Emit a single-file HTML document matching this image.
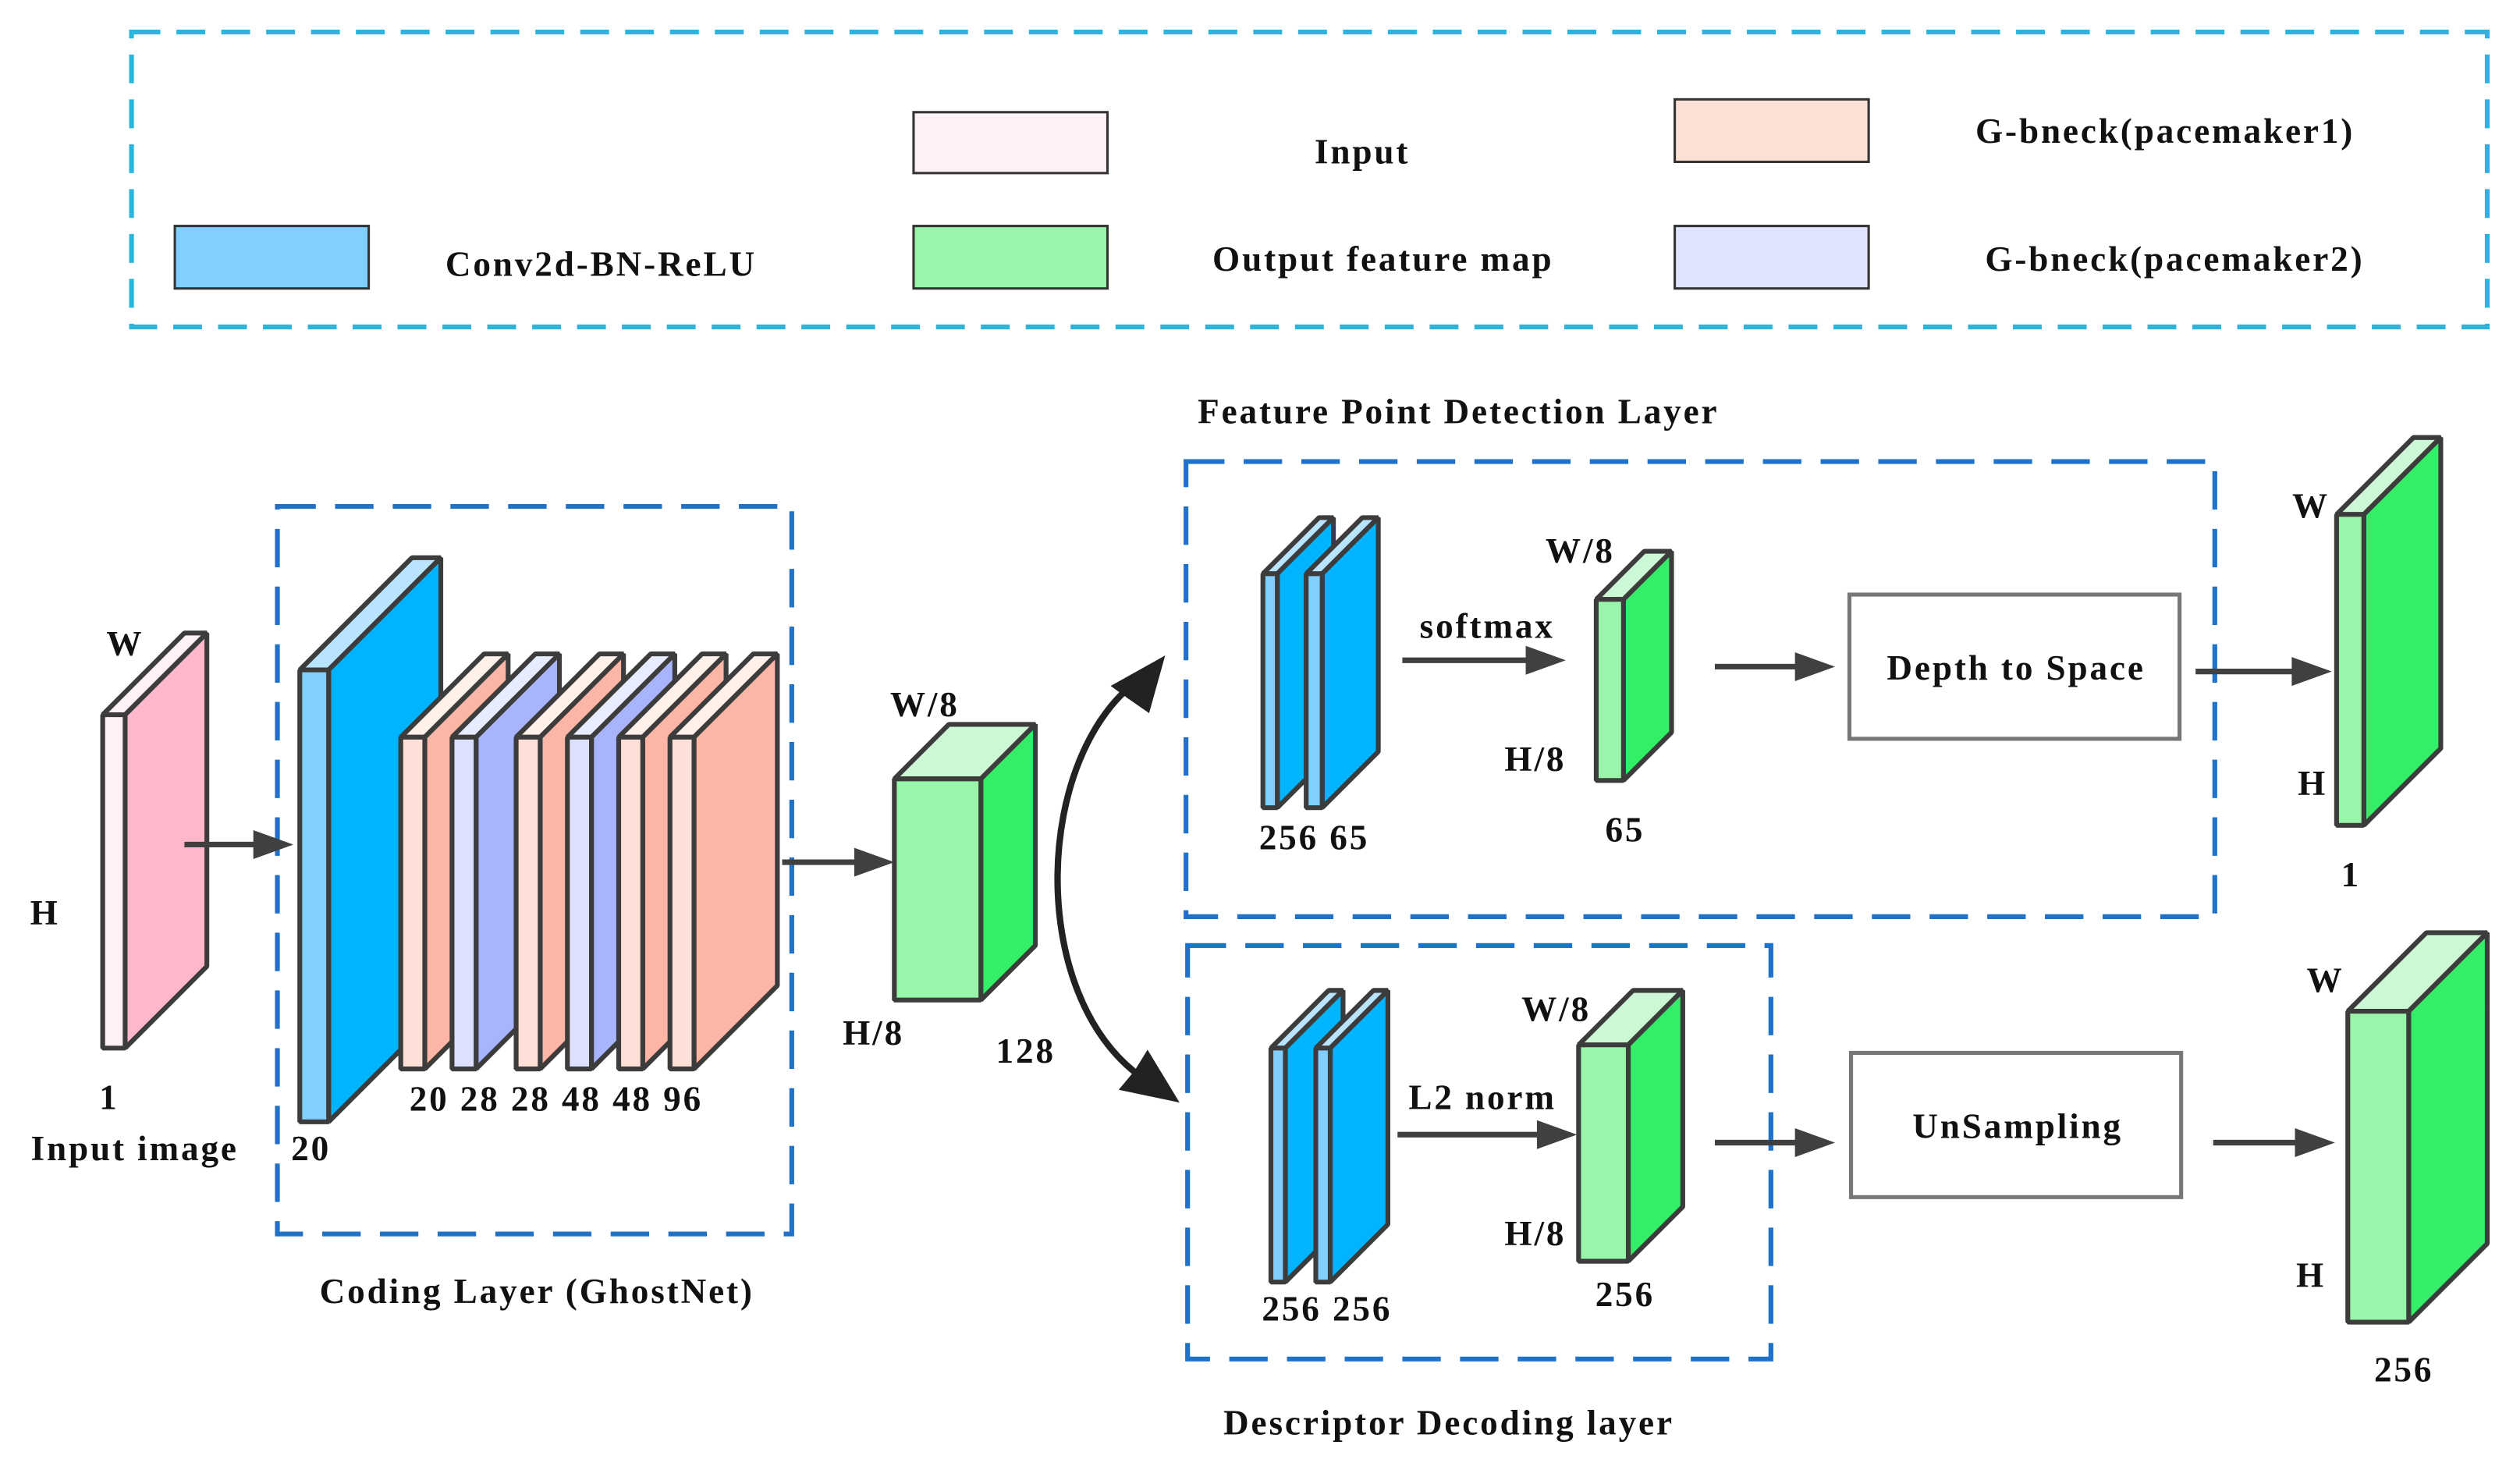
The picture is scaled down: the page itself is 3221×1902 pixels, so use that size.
<!DOCTYPE html>
<html><head><meta charset="utf-8"><style>
html,body{margin:0;padding:0;background:#fff;}
svg{display:block;}
text{font-family:"Liberation Serif",serif;font-weight:bold;font-size:22px;fill:#111;letter-spacing:1.4px;}
</style></head><body>
<svg width="3221" height="1902" viewBox="0 0 1568 926" xmlns="http://www.w3.org/2000/svg">
<!-- legend -->
<rect x="82" y="20" width="1470" height="184" fill="none" stroke="#2bb5dc" stroke-width="3" stroke-dasharray="18,10"/>
<g stroke="#333" stroke-width="1.5">
<rect x="570" y="70" width="121" height="38" fill="#fff0f3"/>
<rect x="109" y="141" width="121" height="39" fill="#80cfff"/>
<rect x="570" y="141" width="121" height="39" fill="#99f5aa"/>
<rect x="1045" y="62" width="121" height="39" fill="#fde0d5"/>
<rect x="1045" y="141" width="121" height="39" fill="#dfe3ff"/>
</g>
<text x="850" y="102" text-anchor="middle">Input</text>
<text x="375" y="172" text-anchor="middle">Conv2d-BN-ReLU</text>
<text x="863" y="169" text-anchor="middle">Output feature map</text>
<text x="1351" y="89" text-anchor="middle">G-bneck(pacemaker1)</text>
<text x="1357" y="169" text-anchor="middle">G-bneck(pacemaker2)</text>

<!-- dashed group boxes -->
<g fill="none" stroke="#1f72c8" stroke-width="3" stroke-dasharray="24,12">
<rect x="173" y="316" width="321" height="454"/>
<rect x="740" y="288" width="642" height="284"/>
<rect x="741" y="590" width="364" height="258"/>
</g>

<g stroke="#3c3c3c" stroke-width="3" stroke-linejoin="bevel">
<polygon points="64,446 115,395 129,395 78,446" fill="#fff0f3"/>
<polygon points="78,446 129,395 129,603 78,654" fill="#ffb8cb"/>
<rect x="64" y="446" width="14" height="208" fill="#fff0f3"/>
<polygon points="187,418 257,348 275,348 205,418" fill="#b8e4ff"/>
<polygon points="205,418 275,348 275,630 205,700" fill="#00b4ff"/>
<rect x="187" y="418" width="18" height="282" fill="#80cfff"/>
<polygon points="250,460 302,408 317,408 265,460" fill="#fff0ea"/>
<polygon points="265,460 317,408 317,615 265,667" fill="#fdb5a5"/>
<rect x="250" y="460" width="15" height="207" fill="#ffe0d8"/>
<polygon points="282,460 334,408 349,408 297,460" fill="#e8ecff"/>
<polygon points="297,460 349,408 349,615 297,667" fill="#a8b4fc"/>
<rect x="282" y="460" width="15" height="207" fill="#dde0ff"/>
<polygon points="322,460 374,408 389,408 337,460" fill="#fff0ea"/>
<polygon points="337,460 389,408 389,615 337,667" fill="#fdb5a5"/>
<rect x="322" y="460" width="15" height="207" fill="#ffe0d8"/>
<polygon points="354,460 406,408 421,408 369,460" fill="#e8ecff"/>
<polygon points="369,460 421,408 421,615 369,667" fill="#a8b4fc"/>
<rect x="354" y="460" width="15" height="207" fill="#dde0ff"/>
<polygon points="386,460 438,408 453,408 401,460" fill="#fff0ea"/>
<polygon points="401,460 453,408 453,615 401,667" fill="#fdb5a5"/>
<rect x="386" y="460" width="15" height="207" fill="#ffe0d8"/>
<polygon points="418,460 470,408 485,408 433,460" fill="#fff0ea"/>
<polygon points="433,460 485,408 485,615 433,667" fill="#fdb5a5"/>
<rect x="418" y="460" width="15" height="207" fill="#ffe0d8"/>
<polygon points="558,486 592,452 646,452 612,486" fill="#ccf8d5"/>
<polygon points="612,486 646,452 646,590 612,624" fill="#33ee66"/>
<rect x="558" y="486" width="54" height="138" fill="#99f5aa"/>
<polygon points="788,358 823,323 832,323 797,358" fill="#b8e4ff"/>
<polygon points="797,358 832,323 832,469 797,504" fill="#00b4ff"/>
<rect x="788" y="358" width="9" height="146" fill="#80cfff"/>
<polygon points="815,358 850,323 860,323 825,358" fill="#b8e4ff"/>
<polygon points="825,358 860,323 860,469 825,504" fill="#00b4ff"/>
<rect x="815" y="358" width="10" height="146" fill="#80cfff"/>
<polygon points="996,374 1026,344 1043,344 1013,374" fill="#ccf8d5"/>
<polygon points="1013,374 1043,344 1043,457 1013,487" fill="#33ee66"/>
<rect x="996" y="374" width="17" height="113" fill="#99f5aa"/>
<polygon points="1458,321 1506,273 1523,273 1475,321" fill="#ccf8d5"/>
<polygon points="1475,321 1523,273 1523,467 1475,515" fill="#33ee66"/>
<rect x="1458" y="321" width="17" height="194" fill="#99f5aa"/>
<polygon points="793,654 829,618 838,618 802,654" fill="#b8e4ff"/>
<polygon points="802,654 838,618 838,764 802,800" fill="#00b4ff"/>
<rect x="793" y="654" width="9" height="146" fill="#80cfff"/>
<polygon points="821,654 857,618 866,618 830,654" fill="#b8e4ff"/>
<polygon points="830,654 866,618 866,764 830,800" fill="#00b4ff"/>
<rect x="821" y="654" width="9" height="146" fill="#80cfff"/>
<polygon points="985,652 1019,618 1050,618 1016,652" fill="#ccf8d5"/>
<polygon points="1016,652 1050,618 1050,753 1016,787" fill="#33ee66"/>
<rect x="985" y="652" width="31" height="135" fill="#99f5aa"/>
<polygon points="1465,631 1514,582 1552,582 1503,631" fill="#ccf8d5"/>
<polygon points="1503,631 1552,582 1552,776 1503,825" fill="#33ee66"/>
<rect x="1465" y="631" width="38" height="194" fill="#99f5aa"/>
</g>

<rect x="1154" y="371" width="206" height="90" fill="#fff" stroke="#777" stroke-width="2.5"/>
<rect x="1155" y="657" width="206" height="90" fill="#fff" stroke="#777" stroke-width="2.5"/>
<text x="1258" y="424" text-anchor="middle">Depth to Space</text>
<text x="1259" y="710" text-anchor="middle">UnSampling</text>

<g stroke="#404040" stroke-width="3.5" fill="#404040">
<line x1="115" y1="527" x2="160" y2="527"/><polygon points="158,518 183,527 158,536" stroke="none"/>
<line x1="488" y1="538" x2="535" y2="538"/><polygon points="533,529 558,538 533,547" stroke="none"/>
<line x1="875" y1="412" x2="954" y2="412"/><polygon points="952,403 977,412 952,421" stroke="none"/>
<line x1="1070" y1="416" x2="1122" y2="416"/><polygon points="1120,407 1145,416 1120,425" stroke="none"/>
<line x1="1370" y1="419" x2="1432" y2="419"/><polygon points="1430,410 1455,419 1430,428" stroke="none"/>
<line x1="872" y1="708" x2="961" y2="708"/><polygon points="959,699 984,708 959,717" stroke="none"/>
<line x1="1070" y1="713" x2="1122" y2="713"/><polygon points="1120,704 1145,713 1120,722" stroke="none"/>
<line x1="1381" y1="713" x2="1434" y2="713"/><polygon points="1432,704 1457,713 1432,722" stroke="none"/>
</g>
<path d="M712,423 C645,470 640,620 712,672" fill="none" stroke="#222" stroke-width="4"/>
<polygon points="727,409 717,445 704,436 693,428" fill="#222"/>
<polygon points="736,688 698,680 708,668 716,655" fill="#222"/>

<text x="78" y="409" text-anchor="middle">W</text>
<text x="28" y="577" text-anchor="middle">H</text>
<text x="68" y="692" text-anchor="middle">1</text>
<text x="84" y="724" text-anchor="middle">Input image</text>
<text x="194" y="724" text-anchor="middle">20</text>
<text x="347" y="693" text-anchor="middle">20 28 28 48 48 96</text>
<text x="335" y="813" text-anchor="middle">Coding Layer (GhostNet)</text>
<text x="577" y="447" text-anchor="middle">W/8</text>
<text x="545" y="652" text-anchor="middle">H/8</text>
<text x="640" y="663" text-anchor="middle">128</text>
<text x="910" y="264" text-anchor="middle">Feature Point Detection Layer</text>
<text x="820" y="530" text-anchor="middle">256 65</text>
<text x="928" y="398" text-anchor="middle">softmax</text>
<text x="986" y="351" text-anchor="middle">W/8</text>
<text x="958" y="481" text-anchor="middle">H/8</text>
<text x="1014" y="525" text-anchor="middle">65</text>
<text x="1442" y="323" text-anchor="middle">W</text>
<text x="1443" y="496" text-anchor="middle">H</text>
<text x="1467" y="553" text-anchor="middle">1</text>
<text x="904" y="895" text-anchor="middle">Descriptor Decoding layer</text>
<text x="828" y="824" text-anchor="middle">256 256</text>
<text x="925" y="692" text-anchor="middle">L2 norm</text>
<text x="971" y="637" text-anchor="middle">W/8</text>
<text x="958" y="777" text-anchor="middle">H/8</text>
<text x="1014" y="815" text-anchor="middle">256</text>
<text x="1451" y="619" text-anchor="middle">W</text>
<text x="1442" y="803" text-anchor="middle">H</text>
<text x="1500" y="862" text-anchor="middle">256</text>
</svg>
</body></html>
